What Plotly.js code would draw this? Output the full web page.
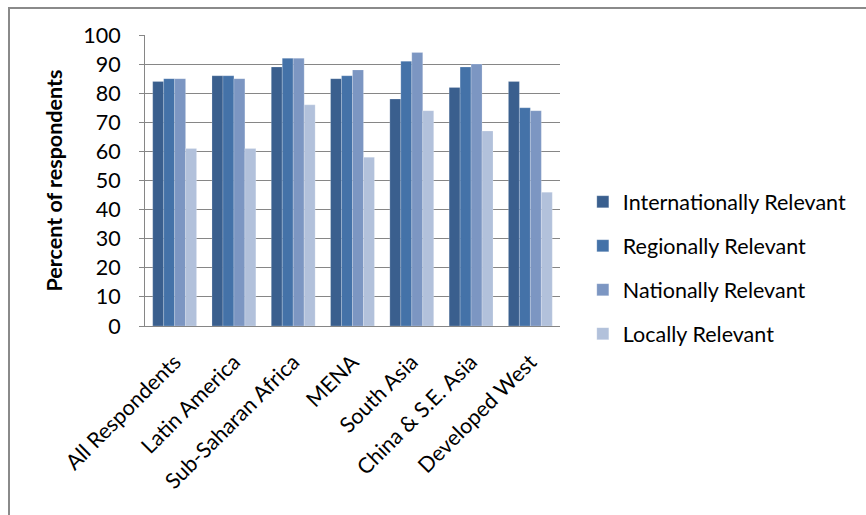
<!DOCTYPE html>
<html>
<head>
<meta charset="utf-8">
<script src="https://cdn.plot.ly/plotly-3.0.1.min.js"></script>
<style>
html, body { margin: 0; padding: 0; background: #fff; }
#wrap { position: relative; width: 866px; height: 515px; }
#frame { position: absolute; left: 8px; top: 7px; width: 870px; height: 520px; border-left: 2px solid #8a8a8a; border-top: 2px solid #8a8a8a; box-sizing: border-box; pointer-events: none; }
#chart { position: absolute; left: 0; top: 0; width: 866px; height: 515px; }
</style>
</head>
<body>
<div id="wrap">
<div id="chart"></div>
<div id="frame"></div>
</div>
<script>
const categories = ["All Respondents", "Latin America", "Sub-Saharan Africa", "MENA", "South Asia", "China & S.E. Asia", "Developed West"];
const seriesNames = ["Internationally Relevant", "Regionally Relevant", "Nationally Relevant", "Locally Relevant"];
const internationally = [84, 86, 89, 85, 78, 82, 84];
const regionally = [85, 86, 92, 86, 91, 89, 75];
const nationally = [85, 85, 92, 88, 94, 90, 74];
const locally = [61, 61, 76, 58, 74, 67, 46];
const yTicks = [0, 10, 20, 30, 40, 50, 60, 70, 80, 90, 100];

const colors = ["#3a5f8e", "#4472a8", "#7c96c2", "#b2c1db"];
const values = [internationally, regionally, nationally, locally];
const FONT = "Lato, 'Open Sans', sans-serif";
const FS = 21.5;

const traces = values.map((v, i) => ({
  type: "bar",
  name: seriesNames[i],
  x: categories,
  y: v,
  legendgroup: "g" + i,
  marker: { color: colors[i], line: { color: "rgba(255,255,255,0.35)", width: 0.6 } },
  hoverinfo: "skip"
}));

const layout = {
  width: 866,
  height: 515,
  margin: { l: 145, r: 306, t: 35, b: 189 },
  paper_bgcolor: "#ffffff",
  plot_bgcolor: "#ffffff",
  barmode: "group",
  bargap: 0.26,
  bargroupgap: 0,
  font: { family: FONT, size: FS, color: "#000" },
  showlegend: true,
  legend: {
    x: 1.055, xanchor: "left",
    y: 0.2, yanchor: "middle",
    traceorder: "grouped",
    tracegroupgap: 13,
    font: { family: FONT, size: FS, color: "#000" },
    itemwidth: 30
  },
  xaxis: {
    type: "category",
    tickangle: -45,
    showline: true,
    linecolor: "#868686",
    linewidth: 1,
    ticks: "",
    showgrid: false,
    tickfont: { family: FONT, size: FS, color: "#000" },
    ticklabelstandoff: 14
  },
  yaxis: {
    range: [0, 100],
    tickvals: yTicks,
    ticktext: yTicks.map(String),
    showline: true,
    linecolor: "#868686",
    linewidth: 1,
    ticks: "outside",
    ticklen: 5,
    tickcolor: "#868686",
    showgrid: true,
    gridcolor: "#868686",
    gridwidth: 1,
    zeroline: false,
    tickfont: { family: FONT, size: FS, color: "#000" },
    ticklabelstandoff: 14,
    title: { text: "Percent of respondents", font: { family: FONT, size: FS, color: "#000", weight: "bold" }, standoff: 14 }
  }
};

Plotly.newPlot("chart", traces, layout, { displayModeBar: false, staticPlot: true });
</script>
</body>
</html>
